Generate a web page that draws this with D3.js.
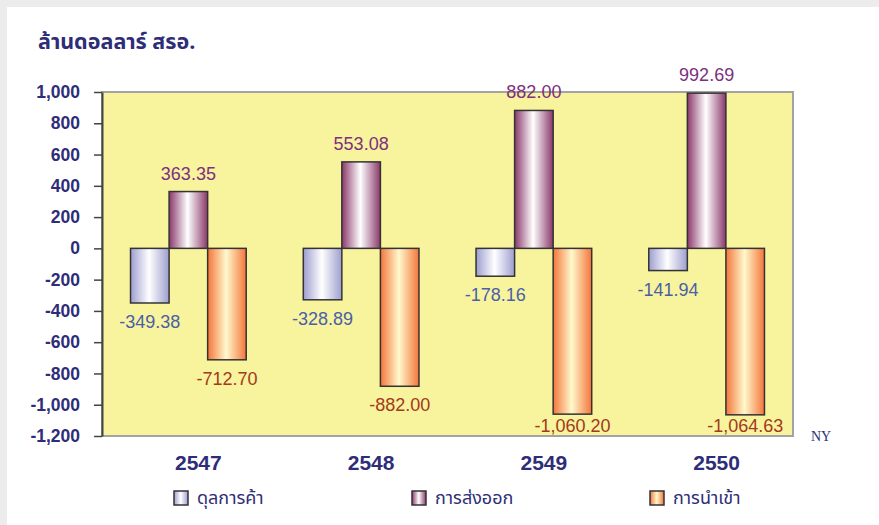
<!DOCTYPE html>
<html>
<head>
<meta charset="utf-8">
<script src="https://cdn.jsdelivr.net/npm/d3@7"></script>
<style>
  body { margin: 0; background: #fff; }
  svg text { font-family: "Liberation Sans", Arial, sans-serif; }
  svg text.thai { font-family: Tahoma, "Noto Sans Thai", "Noto Sans", "Liberation Sans", sans-serif; }
  svg text.serif { font-family: "Liberation Serif", "Times New Roman", serif; }
</style>
</head>
<body>
<svg id="chart" width="879" height="525"></svg>
<script>
const years = ["2547", "2548", "2549", "2550"];
const seriesNames = ["ดุลการค้า", "การส่งออก", "การนำเข้า"];
const balance = [-349.38, -328.89, -178.16, -141.94];
const exportsVal = [363.35, 553.08, 882.0, 992.69];
const importsVal = [-712.7, -882.0, -1060.2, -1064.63];
const yTicks = [-1200, -1000, -800, -600, -400, -200, 0, 200, 400, 600, 800, 1000];

const svg = d3.select("svg#chart");
const width = +svg.attr("width");
const height = +svg.attr("height");
const plot = { left: 102, right: 793, top: 92, bottom: 436 };
const navy = "#2e2d78";

// hyphen minus like the original
const locale = d3.formatLocale({ decimal: ".", thousands: ",", grouping: [3], currency: ["", ""], minus: "-" });

// slide-ish background frame
svg.append("rect").attr("width", width).attr("height", height).attr("fill", "#ececec");
svg.append("rect").attr("x", 7).attr("y", 7).attr("width", width - 7).attr("height", height - 7).attr("fill", "#fff");

const defs = svg.append("defs");
const gradStops = [
  ["g0", "#9d9ecf", "#ffffff"],
  ["g1", "#8a386a", "#ffffff"],
  ["g2", "#f4753a", "#fff9cc"]
];
gradStops.forEach(([id, edge, mid]) => {
  const g = defs.append("linearGradient").attr("id", id).attr("x1", "0%").attr("x2", "100%").attr("y1", "0%").attr("y2", "0%");
  g.append("stop").attr("offset", "0%").attr("stop-color", edge);
  g.append("stop").attr("offset", "48%").attr("stop-color", mid);
  g.append("stop").attr("offset", "100%").attr("stop-color", edge);
});
const labelColors = ["#4a5fa8", "#7e2f80", "#a23a1c"];

const table = years.map((yr, i) => ({
  year: yr,
  values: [balance[i], exportsVal[i], importsVal[i]]
}));

const x0 = d3.scaleBand().domain(years).range([plot.left, plot.right]).paddingInner(0);
const x1 = d3.scaleBand().domain([0, 1, 2]).range([0, x0.bandwidth()]).paddingInner(0).paddingOuter(0.74);
const y = d3.scaleLinear().domain([-1200, 1000]).range([plot.bottom, plot.top]);

// plot area
svg.append("rect")
  .attr("x", plot.left).attr("y", plot.top)
  .attr("width", plot.right - plot.left).attr("height", plot.bottom - plot.top)
  .attr("fill", "#f8f39d").attr("stroke", "#a3a3a3").attr("stroke-width", 2);

// title
svg.append("text").attr("class", "thai")
  .attr("x", 38).attr("y", 49)
  .attr("font-size", 21.5).attr("font-weight", "bold").attr("fill", navy)
  .text("ล้านดอลลาร์ สรอ.");

// y axis
const yAxis = svg.append("g")
  .attr("transform", `translate(${plot.left},0)`)
  .call(d3.axisLeft(y).tickValues(yTicks).tickSize(8).tickSizeOuter(0).tickPadding(14).tickFormat(locale.format(",")));
yAxis.select(".domain").attr("stroke", "#444").attr("stroke-width", 2);
yAxis.selectAll(".tick line").attr("stroke", "#444").attr("stroke-width", 1.5);
yAxis.selectAll(".tick text")
  .attr("font-size", 17.5).attr("font-weight", "bold").attr("fill", navy);

// bars
const groups = svg.append("g").selectAll("g")
  .data(table).join("g")
  .attr("transform", (d) => `translate(${x0(d.year)},0)`);

groups.selectAll("rect")
  .data((d) => d.values.map((v, k) => ({ k, v })))
  .join("rect")
  .attr("x", (d) => x1(d.k))
  .attr("width", x1.bandwidth())
  .attr("y", (d) => y(Math.max(0, d.v)))
  .attr("height", (d) => Math.abs(y(d.v) - y(0)))
  .attr("fill", (d) => `url(#g${d.k})`)
  .attr("stroke", "#333").attr("stroke-width", 1.5);

const fmt = locale.format(",.2f");
groups.selectAll("text.val")
  .data((d) => d.values.map((v, k) => ({ k, v })))
  .join("text")
  .attr("class", "val")
  .attr("x", (d) => x1(d.k) + x1.bandwidth() / 2)
  .attr("y", (d) => d.v >= 0 ? y(d.v) - 12 : Math.min(y(d.v) + 25, plot.bottom - 4))
  .attr("text-anchor", "middle")
  .attr("font-size", 18)
  .attr("fill", (d) => labelColors[d.k])
  .text((d) => fmt(d.v));

// category labels
svg.append("g").selectAll("text")
  .data(years).join("text")
  .attr("x", (d) => x0(d) + x0.bandwidth() / 2 + 10)
  .attr("y", 470)
  .attr("text-anchor", "middle")
  .attr("font-size", 21).attr("font-weight", "bold").attr("fill", navy)
  .text((d) => d);

svg.append("text").attr("class", "serif")
  .attr("x", 811).attr("y", 441)
  .attr("font-size", 14).attr("fill", navy)
  .text("NY");

// legend
const legend = svg.append("g").selectAll("g")
  .data(seriesNames).join("g")
  .attr("transform", (d, i) => `translate(${174 + i * 238},491)`);
legend.append("rect")
  .attr("width", 14).attr("height", 14)
  .attr("fill", (d, i) => `url(#g${i})`)
  .attr("stroke", "#333").attr("stroke-width", 1.5);
legend.append("text").attr("class", "thai")
  .attr("x", 23).attr("y", 13)
  .attr("font-size", 18).attr("fill", navy)
  .text((d) => d);
</script>
</body>
</html>
